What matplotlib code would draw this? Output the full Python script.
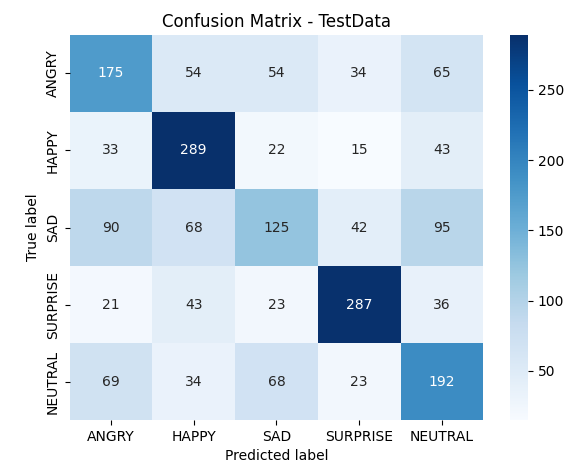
import matplotlib
matplotlib.use("Agg")
import matplotlib.pyplot as plt
import seaborn as sns
import numpy as np

labels = ["ANGRY", "HAPPY", "SAD", "SURPRISE", "NEUTRAL"]
row_angry = [175, 54, 54, 34, 65]
row_happy = [33, 289, 22, 15, 43]
row_sad = [90, 68, 125, 42, 95]
row_surprise = [21, 43, 23, 287, 36]
row_neutral = [69, 34, 68, 23, 192]

cm = np.array([row_angry, row_happy, row_sad, row_surprise, row_neutral])

fig = plt.figure(figsize=(5.87, 4.72), dpi=100)
ax = fig.add_axes([0.1184, 0.110, 0.705, 0.816])
cax = fig.add_axes([0.869, 0.110, 0.0307, 0.816])
sns.heatmap(cm, annot=True, fmt="d", cmap="Blues", xticklabels=labels,
            yticklabels=labels, ax=ax, cbar_ax=cax)
ax.set_title("Confusion Matrix - TestData", fontsize=12)
ax.set_xlabel("Predicted label")
ax.set_ylabel("True label")
fig.savefig("out.png", dpi=100)
